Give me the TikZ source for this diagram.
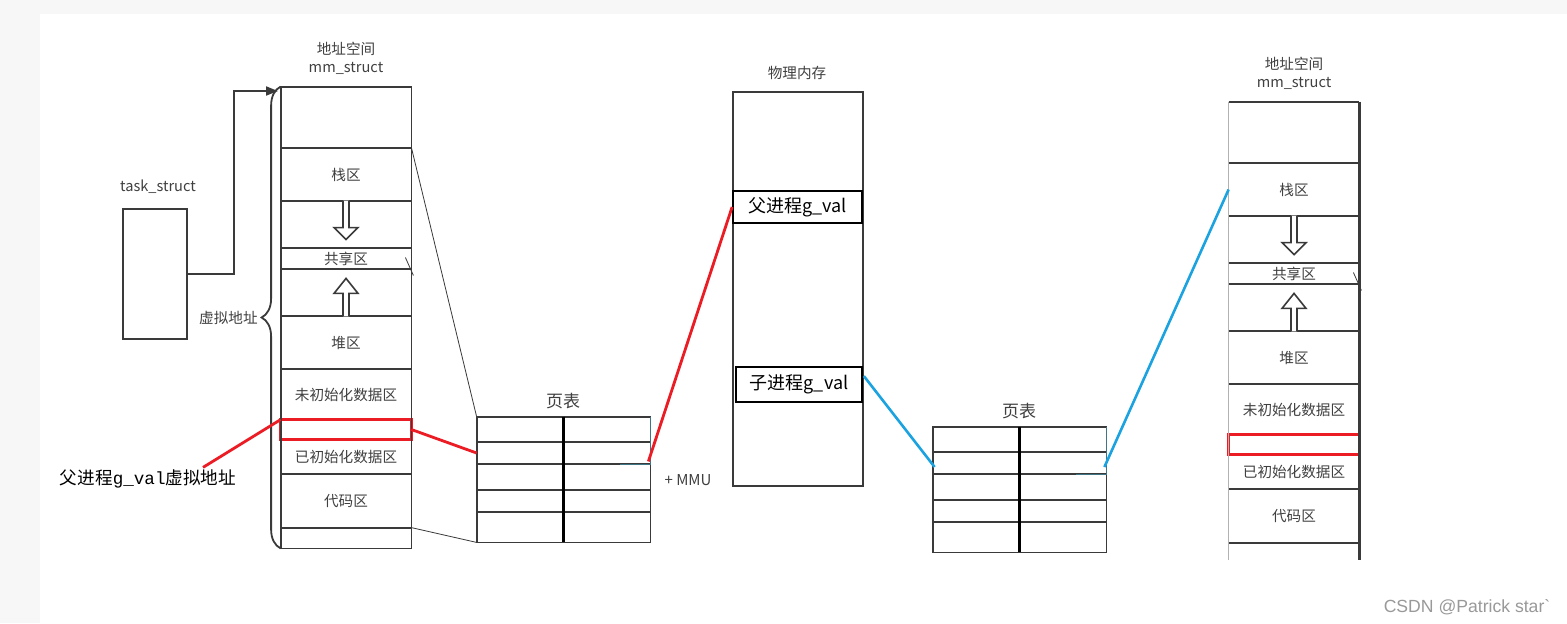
\documentclass[tikz,border=0pt]{standalone}
\usepackage{fontspec}
\setmainfont{Noto Sans CJK SC}
\newfontfamily\monofont{Liberation Mono}
\newfontfamily\wmfont{Liberation Sans}
\usetikzlibrary{positioning,arrows.meta,calc,decorations.pathreplacing}
\definecolor{mGrid}{HTML}{3A3A3A}
\definecolor{mText}{HTML}{404040}
\definecolor{mRed}{HTML}{EC1C24}
\definecolor{mBlue}{HTML}{1AA3E0}
\definecolor{mTeal}{HTML}{3F7585}
\definecolor{mPaleBg}{HTML}{F7F7F7}
\tikzset{
  cell/.style={minimum width=65pt, inner sep=0pt, text=mText, font=\fontsize{7.3}{8}\selectfont},
  gridline/.style={mGrid, line width=0.9pt},
  hollow/.style={mGrid, line width=0.8pt, fill=white},
  caption/.style={text=mText, font=\fontsize{7.3}{9}\selectfont, align=center, inner sep=0pt},
  redline/.style={mRed, line width=1.4pt},
  blueline/.style={mBlue, line width=1.3pt},
}
\begin{document}
\begin{tikzpicture}[x=0.5pt, y=-0.5pt]
\fill[mPaleBg] (0,0) rectangle (1567,623);
\fill[white] (40,14) rectangle (1567,623);
\useasboundingbox (0,0) rectangle (1567,623);

% two address spaces
\foreach \pfx/\x/\y/\hgt in {L/281/87/461, R/1229/102/458} {
  \foreach \nm/\ya/\yb/\txt in {top/0/61/{}, stack/61/114/栈区, down/114/161/{}, share/161/182/共享区, up/182/229/{}, heap/229/282/堆区, bss/282/333/未初始化数据区, red/333/352/{}, data/352/387/已初始化数据区, code/387/441/代码区, end/441/\hgt/{}} {
    \node[cell, minimum height={(\yb-\ya)*0.5pt}] (\pfx\nm) at ({\x+65}, {\y+(\ya+\yb)/2}) {\txt};
    \draw[gridline] (\pfx\nm.north west) -- (\pfx\nm.north east);
  }
  \draw[mRed, line width=1.5pt] (\pfx red.north west) rectangle (\pfx red.south east);
  \draw[hollow] ($(\pfx down.north)+(-3,0)$) -- ++(0,27) -- ++(-9,0) -- ++(12,12) -- ++(12,-12) -- ++(-9,0) -- ++(0,-27);
  \draw[hollow] ($(\pfx up.south)+(-3,0)$) -- ++(0,-23) -- ++(-9,0) -- ++(12,-15) -- ++(12,15) -- ++(-9,0) -- ++(0,23);
  \draw[mGrid, line width=0.4pt] ($(\pfx share.east)+(-6,-1)$) -- ++(8,18);
  \node[caption, above=6pt of \pfx top] (\pfx title) {地址空间\\mm\_struct};
}
\draw[gridline] (Ltop.north west) rectangle (Lend.south east);
\draw[black!30, line width=0.6pt] (Rtop.north west) -- (Rend.south west);
\draw[gridline, line width=1.2pt] (Rtop.north east) -- (Rend.south east);

% page tables
\foreach \pfx/\x/\y in {P/477/417, Q/933/427} {
  \foreach \row/\ya/\yb in {1/0/25, 2/25/47, 3/47/73, 4/73/95, 5/95/125} {
    \node[cell, minimum width=43pt, minimum height={(\yb-\ya)*0.5pt}] (\pfx\row a) at ({\x+43}, {\y+(\ya+\yb)/2}) {};
    \node[cell, minimum width=43.5pt, minimum height={(\yb-\ya)*0.5pt}] (\pfx\row b) at ({\x+129.5}, {\y+(\ya+\yb)/2}) {};
    \draw[gridline] (\pfx\row a.north west) -- (\pfx\row b.north east);
  }
  \draw[gridline] (\pfx1a.north west) rectangle (\pfx5b.south east);
  \draw[black, line width=1.6pt] (\pfx1a.north east) -- (\pfx5a.south east);
  \draw[mTeal, line width=0.9pt] (\pfx1b.north east) -- (\pfx2b.south east) -- ++(-30,0);
  \node[text=mText, font=\fontsize{8.5}{10}\selectfont, inner sep=0pt] (\pfx title) at ({\x+86}, {\y-16}) {页表};
}

% physical memory
\node[draw=mGrid, line width=0.9pt, minimum width=65pt, minimum height=197pt, inner sep=0pt] (phys) at (798,289) {};
\node[caption] (phystitle) at (797,73) {物理内存};
\node[draw=black, line width=0.9pt, minimum width=64.5pt, minimum height=16pt, inner sep=0pt, font=\fontsize{9}{10}\selectfont] (pfa) at (797.5,207) {父进程g\_val};
\node[draw=black, line width=0.9pt, minimum width=63pt, minimum height=17.5pt, inner sep=0pt, font=\fontsize{9}{10}\selectfont] (pch) at (799,384.5) {子进程g\_val};

% task_struct
\node[draw=mGrid, line width=0.9pt, minimum width=32pt, minimum height=65pt, inner sep=0pt] (task) at (155,274) {};
\node[caption] (tasktitle) at (158,187) {task\_struct};
\coordinate (mmin) at (278,91);
\draw[gridline, -{Triangle[length=6pt, width=4.5pt]}] (task.east) -- ++(46,0) |- (mmin);
\draw[gridline, decorate, decoration={brace, amplitude=9.5pt}] (Lend.south west) -- (Ltop.north west);
\node[caption, anchor=east] (vaddr) at (258,318) {虚拟地址};

% mappings
\node[font=\fontsize{8.8}{10}\selectfont, inner sep=1pt] (pvlabel) at (148,479) {父进程{\monofont g\_val}虚拟地址};
\draw[redline] ($(pvlabel.north)+(55,0)$) -- (Lred.north west);
\draw[redline] (Lred.east) -- (P2a.west);
\draw[redline] ($(P2b.south east)+(-2,-3)$) -- (pfa.west);
\draw[blueline] ($(pch.north east)+(1,10)$) -- ($(Q2a.west)+(2,4)$);
\draw[blueline] ($(Q2b.east)+(-2,4)$) -- (Rstack.west);
\draw[mGrid, line width=0.4pt] (Lstack.north east) -- (P1a.north west);
\draw[mGrid, line width=0.4pt] (Lend.north east) -- (P5a.south west);
\node[text=mText, font=\fontsize{7.5}{9}\selectfont, inner sep=0pt] (mmu) at (688,480) {+ MMU};
\node[text=black!40, font=\wmfont\fontsize{8.8}{10}\selectfont, inner sep=0pt] (csdn) at (1467,607) {CSDN @Patrick star\symbol{96}};
\end{tikzpicture}
\end{document}
